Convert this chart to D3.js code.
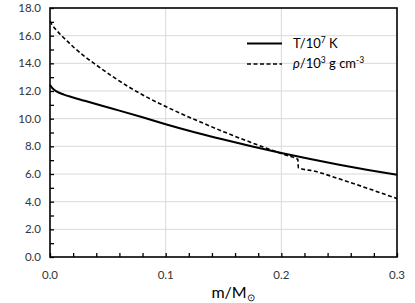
<!DOCTYPE html>
<html><head><meta charset="utf-8">
<script src="https://cdn.jsdelivr.net/npm/d3@7"></script>
<style>
html,body{margin:0;padding:0;background:#fff;}
text{font-family:Lato,"Open Sans",sans-serif;}
</style></head>
<body><svg id="c" width="415" height="303"></svg>
<script>
const tempMass = [0, 0.002, 0.006, 0.012, 0.02, 0.03, 0.045, 0.06, 0.08, 0.1, 0.125, 0.15, 0.175, 0.2, 0.225, 0.25, 0.275, 0.3];
const tempValues = [12.45, 12.2, 11.95, 11.74, 11.53, 11.29, 10.93, 10.58, 10.1, 9.6, 9.02, 8.49, 7.99, 7.52, 7.08, 6.67, 6.29, 5.94];
const rhoMass = [0, 0.002, 0.005, 0.01, 0.015, 0.02, 0.03, 0.04, 0.055, 0.07, 0.085, 0.1, 0.115, 0.13, 0.15, 0.17, 0.19, 0.205, 0.2143, 0.2147, 0.229, 0.25, 0.275, 0.3];
const rhoValues = [17.05, 16.75, 16.45, 16.0, 15.6, 15.2, 14.5, 13.88, 13.0, 12.2, 11.5, 10.88, 10.3, 9.76, 9.06, 8.4, 7.78, 7.33, 7.06, 6.45, 6.2, 5.65, 4.95, 4.22];
const xTicks = [0, 0.1, 0.2, 0.3];
const xMinorTicks = d3.range(0, 0.3001, 0.02);
const yTicks = [0, 2, 4, 6, 8, 10, 12, 14, 16, 18];
const yMinorTicks = d3.range(0, 18.01, 1);
const legendLabels = ["T/10", "/10"];

const svg = d3.select("#c");
const L = 50, R = 397, T = 8, B = 257;
const x = d3.scaleLinear().domain([0, 0.3]).range([L, R]);
const y = d3.scaleLinear().domain([0, 18]).range([B, T]);

// gridlines
svg.append("g").selectAll("line").data(yTicks.slice(1, -1)).join("line")
  .attr("x1", L).attr("x2", R).attr("y1", d => y(d)).attr("y2", d => y(d))
  .attr("stroke", "#d9d9d9").attr("stroke-width", 1);
svg.append("g").selectAll("line").data(xTicks.slice(1, -1)).join("line")
  .attr("x1", d => x(d)).attr("x2", d => x(d)).attr("y1", T).attr("y2", B)
  .attr("stroke", "#d9d9d9").attr("stroke-width", 1);

// axes
const xAxis = d3.axisBottom(x).tickValues(xMinorTicks).tickSize(-4).tickFormat("");
svg.append("g").attr("transform", `translate(0,${B})`).call(xAxis)
  .call(g => g.select(".domain").remove())
  .call(g => g.selectAll("line").attr("stroke", "#000").attr("stroke-width", 1.3));
const yAxis = d3.axisLeft(y).tickValues(yMinorTicks).tickSize(-4).tickFormat("");
svg.append("g").attr("transform", `translate(${L},0)`).call(yAxis)
  .call(g => g.select(".domain").remove())
  .call(g => g.selectAll("line").attr("stroke", "#000").attr("stroke-width", 1.3));

// tick labels
svg.append("g").selectAll("text").data(yTicks).join("text")
  .attr("x", 41).attr("y", d => y(d) + 4).attr("text-anchor", "end")
  .attr("font-size", 11.5).attr("fill", "#333").text(d => d.toFixed(1));
svg.append("g").selectAll("text").data(xTicks).join("text")
  .attr("x", d => x(d)).attr("y", 279).attr("text-anchor", "middle")
  .attr("font-size", 11.5).attr("fill", "#333").text(d => d.toFixed(1));

// box
svg.append("rect").attr("x", L).attr("y", T).attr("width", R - L).attr("height", B - T)
  .attr("fill", "none").attr("stroke", "#000").attr("stroke-width", 1.6);

// lines
const lineT = d3.line().x((d, i) => x(tempMass[i])).y(d => y(d)).curve(d3.curveMonotoneX);
svg.append("path").datum(tempValues).attr("d", lineT)
  .attr("fill", "none").attr("stroke", "#000").attr("stroke-width", 2);
const lineR = d3.line().x((d, i) => x(rhoMass[i])).y(d => y(d)).curve(d3.curveMonotoneX);
svg.append("path").datum(rhoValues).attr("d", lineR)
  .attr("fill", "none").attr("stroke", "#000").attr("stroke-width", 1.6).attr("stroke-dasharray", "4,2.5");

// legend
svg.append("line").attr("x1", 247).attr("x2", 282).attr("y1", 43.5).attr("y2", 43.5)
  .attr("stroke", "#000").attr("stroke-width", 2);
svg.append("line").attr("x1", 247).attr("x2", 282).attr("y1", 64).attr("y2", 64)
  .attr("stroke", "#000").attr("stroke-width", 1.6).attr("stroke-dasharray", "4,2.5");
const t1 = svg.append("text").attr("x", 293).attr("y", 48).attr("font-size", 13).attr("fill", "#000");
t1.append("tspan").text(legendLabels[0]);
t1.append("tspan").attr("font-size", 8.5).attr("dy", -5).text("7");
t1.append("tspan").attr("dy", 5).text(" K");
const t2 = svg.append("text").attr("x", 293).attr("y", 68).attr("font-size", 13).attr("fill", "#000");
t2.append("tspan").attr("font-style", "italic").text("ρ");
t2.append("tspan").text(legendLabels[1]);
t2.append("tspan").attr("font-size", 8.5).attr("dy", -5).text("3");
t2.append("tspan").attr("dy", 5).text(" g cm");
t2.append("tspan").attr("font-size", 8.5).attr("dy", -5).text("-3");

// axis title
const at = svg.append("text").attr("x", 233).attr("y", 298).attr("text-anchor", "middle")
  .attr("font-size", 16).attr("fill", "#000");
at.append("tspan").text("m/M");
at.append("tspan").attr("font-size", 10).attr("dy", 3).text("⊙");
</script></body></html>
